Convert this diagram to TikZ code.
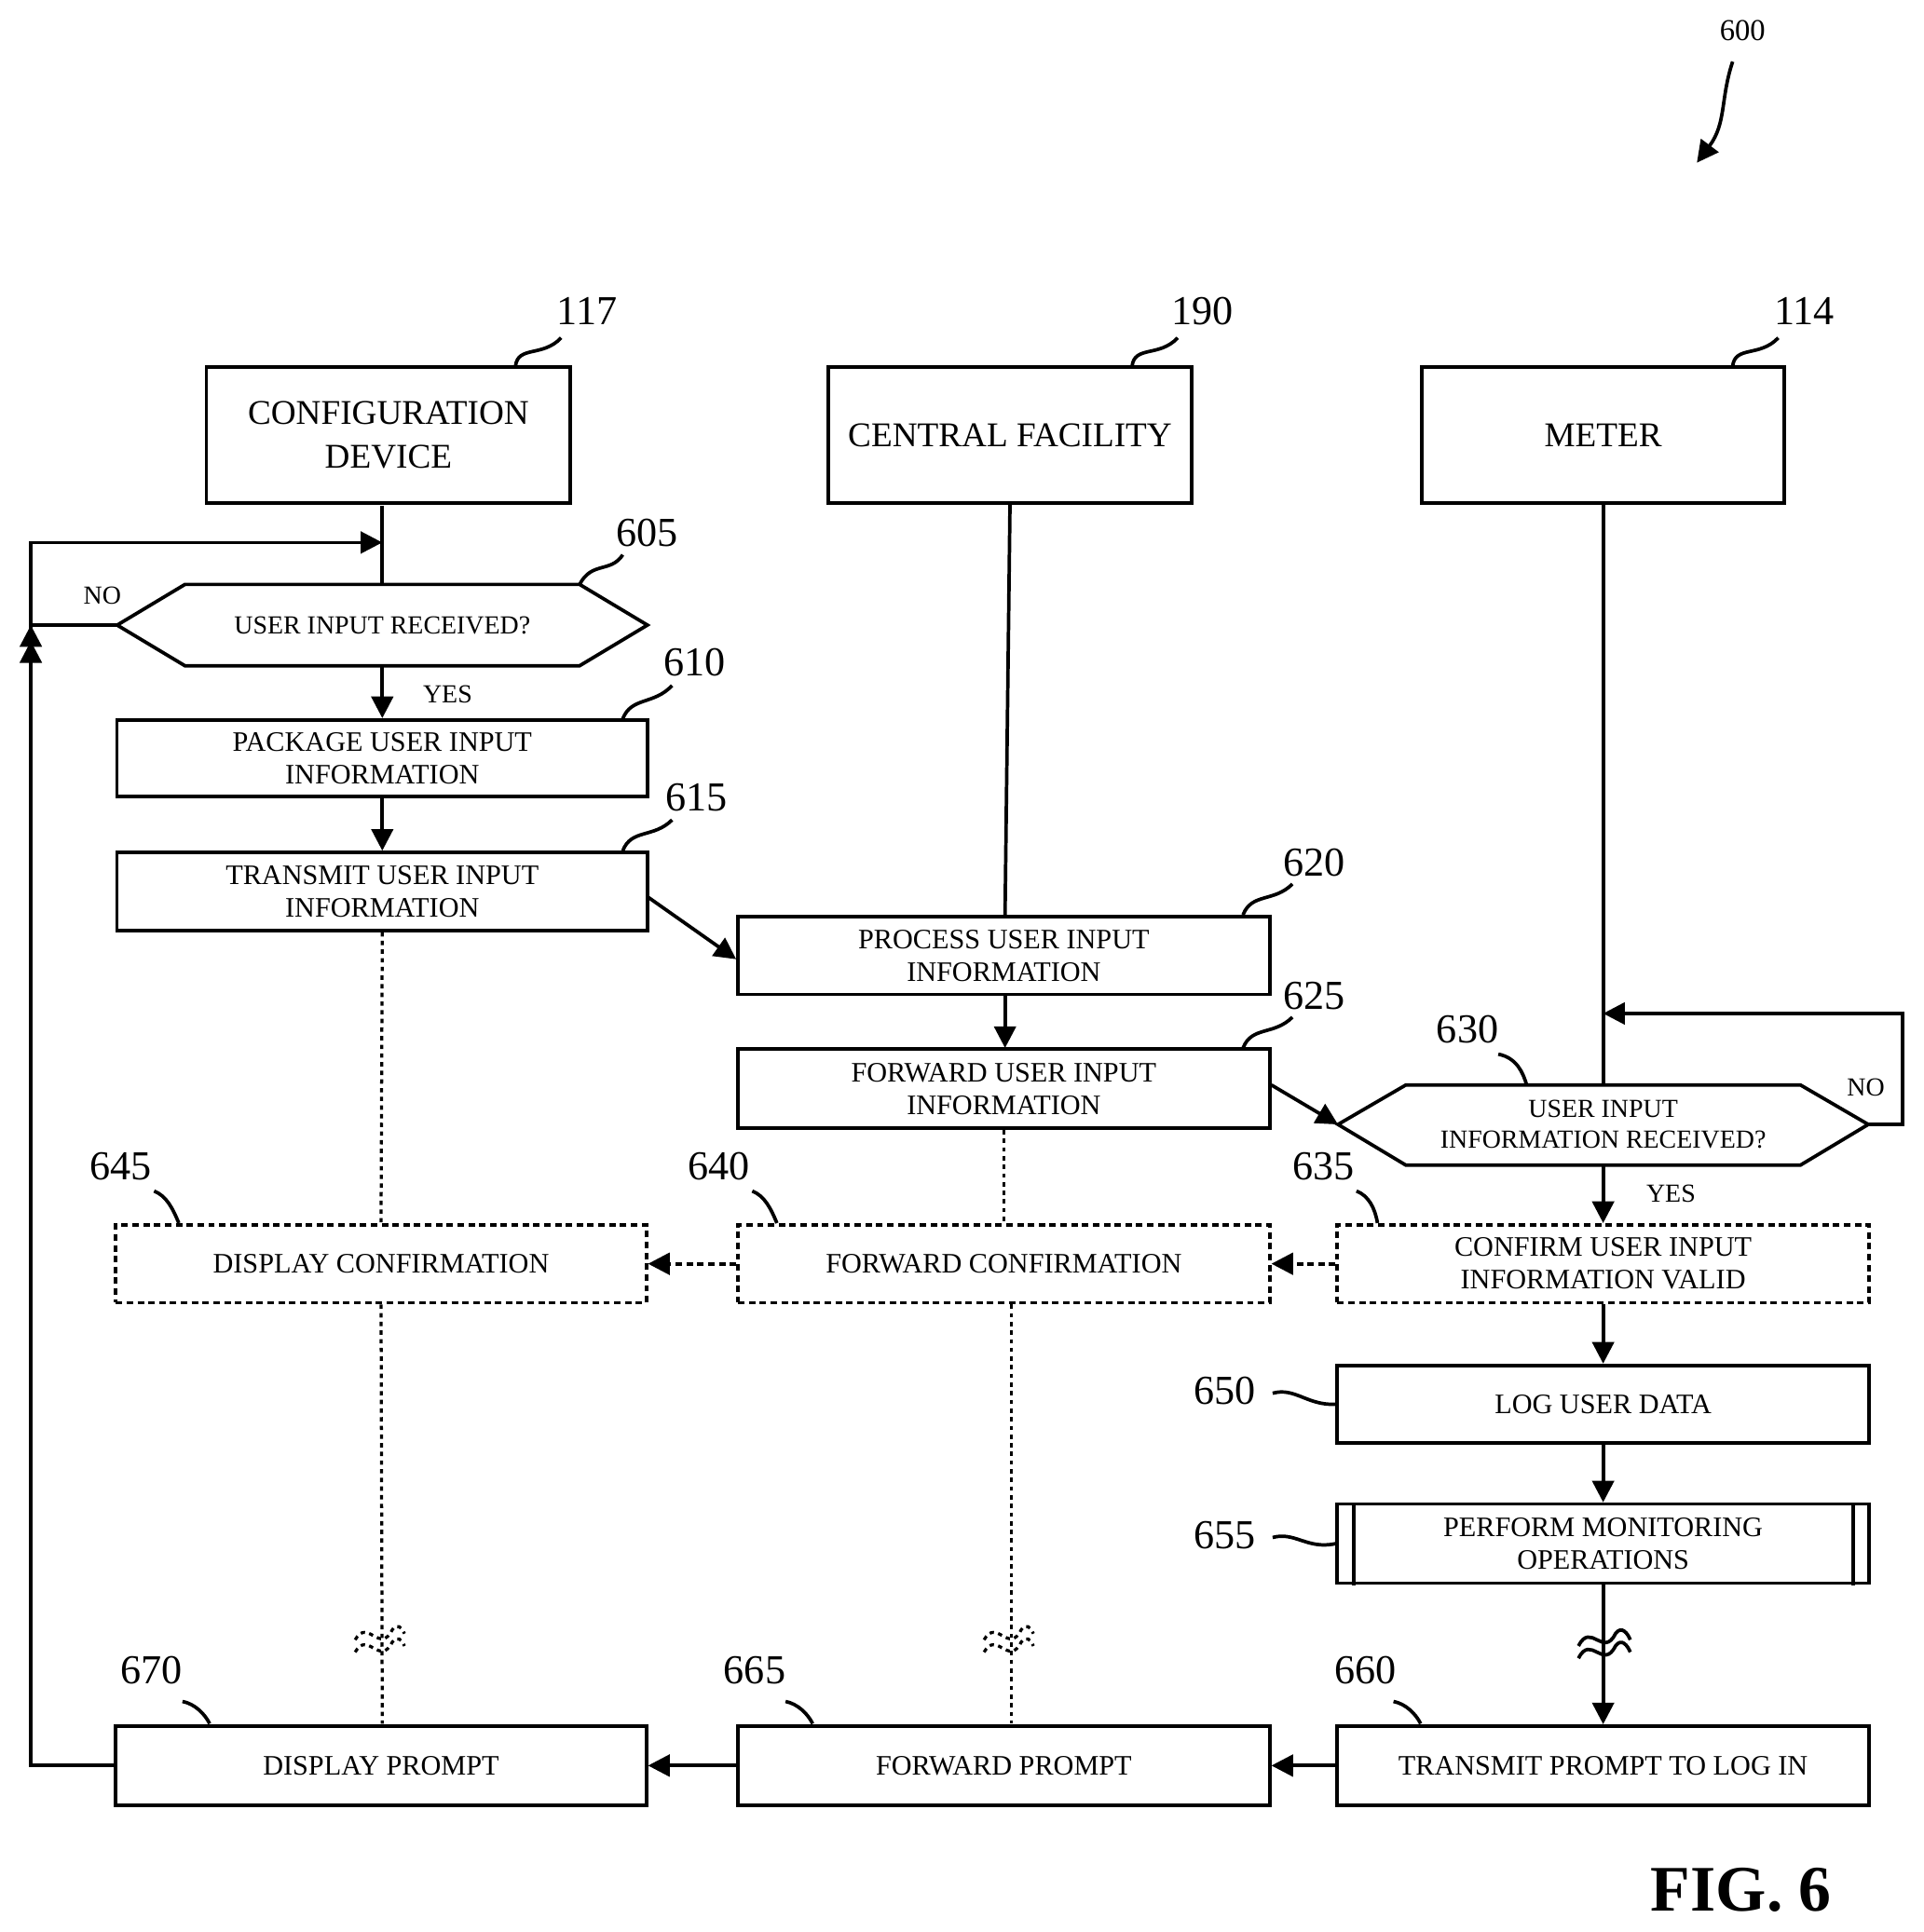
\documentclass[tikz,border=0pt]{standalone}
\usepackage{fontspec}
\setmainfont{Liberation Serif}
\usetikzlibrary{arrows.meta}
\begin{document}
\begin{tikzpicture}[x=0.02cm,y=-0.02cm,
 bx/.style={draw,line width=1.6pt,inner sep=0pt,font=\fontsize{13}{15}\selectfont,align=center},
 dbx/.style={bx,dash pattern=on 3pt off 2pt},
 hd/.style={bx,font=\fontsize{16}{20}\selectfont},
 ln/.style={line width=1.6pt},
 ar/.style={ln,-{Triangle[length=10pt,width=10pt]}},
 dar/.style={ar,dash pattern=on 3pt off 2pt},
 dot/.style={line width=1.4pt,dash pattern=on 2pt off 2pt},
 lab/.style={font=\fontsize{19}{22}\selectfont},
 sm/.style={font=\fontsize{12}{14}\selectfont}]
\useasboundingbox (0,0) rectangle (1560,1567);
\newcommand{\bxx}[6]{\node[#1,minimum width=#4*0.02cm-1.6pt,minimum height=#5*0.02cm-1.6pt] (#2) at (#3) {#6};}
% headers
\bxx{hd}{cd}{315,353}{298}{113}{CONFIGURATION\\DEVICE}
\bxx{hd}{cf}{819,353}{298}{113}{CENTRAL FACILITY}
\bxx{hd}{me}{1300,353}{297}{113}{METER}
\node[lab] (l117) at (476,252) {117};
\node[lab] (l190) at (975,252) {190};
\node[lab] (l114) at (1463,252) {114};
\draw[ln] (418,297) .. controls (420,280) and (440,290) .. (455,274);
\draw[ln] (918,297) .. controls (920,280) and (940,290) .. (955,274);
\draw[ln] (1405,297) .. controls (1407,280) and (1427,290) .. (1442,274);
% 600
\node[font=\fontsize{14}{16}\selectfont] (l600) at (1413,25) {600};
\coordinate (a600) at (1376,132);
\draw[ar] (1405,50) .. controls (1395,80) and (1400,100) .. (a600);
% hexagon 605
\draw[ln] (95,507)--(150,474)--(470,474)--(525,507)--(470,540)--(150,540)--cycle;
\node[sm] (h605) at (310,507) {USER INPUT RECEIVED?};
\node[lab] (l605) at (525,432) {605};
\draw[ln] (470,474) .. controls (480,455) and (495,465) .. (505,450);
\draw[ln] (310,410)--(310,474);
\coordinate (n1) at (95,507);
\draw[ar] (n1)--(25,507)--(25,440)--(310,440);
\node[sm] at (83,483) {NO};
% 610
\bxx{bx}{b610}{310,615}{433}{65}{PACKAGE USER INPUT\\INFORMATION}
\node[lab] (l610) at (563,537) {610};
\draw[ln] (505,583) .. controls (512,565) and (530,572) .. (545,556);
\draw[ar] (310,540)--(b610.north);
\node[sm] at (363,563) {YES};
% 615
\bxx{bx}{b615}{310,723}{433}{66}{TRANSMIT USER INPUT\\INFORMATION}
\node[lab] (l615) at (565,647) {615};
\draw[ln] (505,690) .. controls (512,672) and (530,680) .. (545,665);
\draw[ar] (b610)--(b615);
% 620
\draw[ln] (cf.south)--(815,742);
\bxx{bx}{b620}{814,775}{434}{66}{PROCESS USER INPUT\\INFORMATION}
\node[lab] (l620) at (1066,700) {620};
\draw[ln] (1008,742) .. controls (1015,724) and (1033,732) .. (1048,717);
\draw[ar] (526,728)--(597,778);
% 625
\bxx{bx}{b625}{814,883}{434}{67}{FORWARD USER INPUT\\INFORMATION}
\node[lab] (l625) at (1066,808) {625};
\draw[ln] (1008,850) .. controls (1015,832) and (1033,840) .. (1048,825);
\draw[ar] (815,808)--(815,850);
% hexagon 630
\draw[ln] (1085,912)--(1140,880)--(1460,880)--(1515,912)--(1460,945)--(1140,945)--cycle;
\node[sm,align=center] (h630) at (1300,912) {USER INPUT\\INFORMATION RECEIVED?};
\node[lab] (l630) at (1190,835) {630};
\draw[ln] (1215,855) .. controls (1230,858) and (1235,870) .. (1238,880);
\draw[ar] (1031,880)--(1085,912);
\draw[ln] (me.south)--(1300,880);
\draw[ar] (1515,912)--(1543,912)--(1543,822)--(1300,822);
\node[sm] at (1513,882) {NO};
% 635 640 645
\bxx{dbx}{b635}{1300,1025}{434}{66}{CONFIRM USER INPUT\\INFORMATION VALID}
\bxx{dbx}{b640}{814,1025}{434}{66}{FORWARD CONFIRMATION}
\bxx{dbx}{b645}{309,1025}{433}{66}{DISPLAY CONFIRMATION}
\node[lab] (l635) at (1073,946) {635};
\node[lab] (l640) at (583,946) {640};
\node[lab] (l645) at (98,946) {645};
\draw[ln] (1100,966) .. controls (1110,970) and (1115,980) .. (1117,992);
\draw[ln] (610,966) .. controls (620,970) and (625,980) .. (630,992);
\draw[ln] (125,966) .. controls (135,970) and (140,980) .. (145,992);
\draw[ar] (1300,945)--(b635.north);
\node[sm] at (1355,968) {YES};
\draw[dar] (b635.west)--(b640.east);
\draw[dar] (b640.west)--(b645.east);
\draw[dot] (b615.south)--(b645.north);
\draw[dot] (b625.south)--(b640.north);
% 650 655
\bxx{bx}{b650}{1300,1139}{434}{66}{LOG USER DATA}
\bxx{bx}{b655}{1300,1252}{434}{67}{PERFORM MONITORING\\OPERATIONS}
\draw[ln] (1098,1219)--(1098,1286) (1503,1219)--(1503,1286);
\node[lab] (l650) at (993,1128) {650};
\node[lab] (l655) at (993,1245) {655};
\draw[ln] (1032,1130) .. controls (1050,1125) and (1060,1140) .. (b650.west);
\draw[ln] (1032,1247) .. controls (1050,1242) and (1060,1257) .. (b655.west);
\draw[ar] (b635.south)--(b650.north);
\draw[ar] (b650)--(b655);
% 660 665 670
\bxx{bx}{b660}{1300,1432}{434}{67}{TRANSMIT PROMPT TO LOG IN}
\bxx{bx}{b665}{814,1432}{434}{67}{FORWARD PROMPT}
\bxx{bx}{b670}{309,1432}{433}{67}{DISPLAY PROMPT}
\node[lab] (l660) at (1107,1355) {660};
\node[lab] (l665) at (612,1355) {665};
\node[lab] (l670) at (123,1355) {670};
\draw[ln] (1130,1380) .. controls (1140,1382) and (1148,1390) .. (1152,1398);
\draw[ln] (637,1380) .. controls (647,1382) and (655,1390) .. (659,1398);
\draw[ln] (148,1380) .. controls (158,1382) and (166,1390) .. (170,1398);
\draw[ar] (b655.south)--(b660.north);
\draw[line width=1.6pt] (1280,1335) .. controls (1290,1315) and (1300,1345) .. (1310,1325) .. controls (1315,1318) and (1320,1325) .. (1322,1330);
\draw[line width=1.6pt] (1280,1345) .. controls (1290,1325) and (1300,1355) .. (1310,1335) .. controls (1315,1328) and (1320,1335) .. (1322,1340);
\draw[ar] (b660.west)--(b665.east);
\draw[ar] (b665.west)--(b670.east);
\draw[dot] (b645.south)--(310,1398);
\draw[dot] (820,1058)--(820,1398);
\foreach \xx in {310,820}{
 \draw[dot] (\xx-22,1330) .. controls (\xx-12,1312) and (\xx-2,1342) .. (\xx+8,1322) .. controls (\xx+12,1316) and (\xx+16,1320) .. (\xx+18,1325);
 \draw[dot] (\xx-22,1340) .. controls (\xx-12,1322) and (\xx-2,1352) .. (\xx+8,1332) .. controls (\xx+12,1326) and (\xx+16,1330) .. (\xx+18,1335);}
% loop back
\draw[ar] (b670.west)--(25,1432)--(n1 -| 25,507) ++(0,0);
\draw[ar] (25,1432)--(25,520);
\node[font=\bfseries\fontsize{30}{34}\selectfont] (fig) at (1412,1533) {FIG. 6};
\end{tikzpicture}
\end{document}
